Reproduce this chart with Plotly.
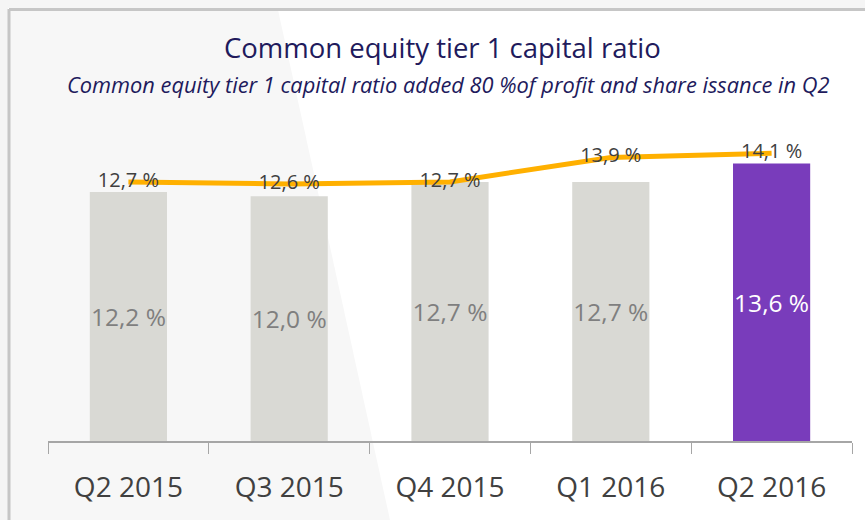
import plotly.graph_objects as go

categories = ["Q2 2015", "Q3 2015", "Q4 2015", "Q1 2016", "Q2 2016"]
bar_values = [12.2, 12.0, 12.7, 12.7, 13.6]
line_values = [12.7, 12.6, 12.7, 13.9, 14.1]
bar_colors = ["#d9d9d4", "#d9d9d4", "#d9d9d4", "#d9d9d4", "#793cbb"]
bar_text_colors = ["#7f7f7f", "#7f7f7f", "#7f7f7f", "#7f7f7f", "#ffffff"]

def fmt(v):
    return f"{v:.1f}".replace(".", ",") + " %"

W, H = 865, 520
L, R, T, B = 48, 13, 130, 79
PW, PH = W - L - R, H - T - B

def px(x):
    return (x - L) / PW

def py(y):
    return (H - B - y) / PH

fig = go.Figure()

fig.add_trace(go.Bar(
    x=categories, y=bar_values,
    marker=dict(color=bar_colors, line=dict(width=0)),
    width=0.48,
    text=[fmt(v) for v in bar_values],
    textposition="inside", insidetextanchor="middle",
    textangle=0, constraintext="none",
    textfont=dict(family="Open Sans", size=24.5, color=bar_text_colors),
    hoverinfo="skip", showlegend=False,
))

fig.add_trace(go.Scatter(
    x=categories, y=line_values, mode="lines",
    line=dict(color="#ffb000", width=5),
    hoverinfo="skip", showlegend=False,
))

fig.add_trace(go.Scatter(
    x=categories, y=line_values, mode="text",
    text=[fmt(v) for v in line_values],
    textposition="middle center",
    textfont=dict(family="Open Sans", size=20, color="#404040"),
    hoverinfo="skip", showlegend=False,
))

shapes = [
    dict(type="rect", xref="paper", yref="paper", x0=px(0), x1=px(W), y0=py(H), y1=py(0),
         fillcolor="#ffffff", line=dict(width=0), layer="below"),
    dict(type="rect", xref="paper", yref="paper", x0=px(0), x1=px(W), y0=py(8), y1=py(0),
         fillcolor="#f5f5f5", line=dict(width=0), layer="below"),
    dict(type="rect", xref="paper", yref="paper", x0=px(0), x1=px(8), y0=py(H), y1=py(0),
         fillcolor="#f5f5f5", line=dict(width=0), layer="below"),
    dict(type="path", xref="paper", yref="paper",
         path=f"M {px(10)},{py(10)} L {px(278)},{py(10)} L {px(390)},{py(H)} L {px(10)},{py(H)} Z",
         fillcolor="#f7f7f7", line=dict(width=0), layer="below"),
    dict(type="line", xref="paper", yref="paper", x0=px(9), x1=px(W), y0=py(9.5), y1=py(9.5),
         line=dict(color="#c6c6c6", width=3), layer="below"),
    dict(type="line", xref="paper", yref="paper", x0=px(9), x1=px(9), y0=py(9), y1=py(H),
         line=dict(color="#c6c6c6", width=3), layer="below"),
]

fig.update_layout(
    width=W, height=H,
    margin=dict(l=L, r=R, t=T, b=B),
    paper_bgcolor="#ffffff", plot_bgcolor="rgba(0,0,0,0)",
    bargap=0.52,
    shapes=shapes,
    annotations=[
        dict(text="Common equity tier 1 capital ratio", xref="paper", yref="paper",
             x=px(442), y=py(47), xanchor="center", yanchor="middle", showarrow=False,
             font=dict(family="Open Sans", size=27.5, color="#211a5c")),
        dict(text="<i>Common equity tier 1 capital ratio added 80 %of profit and share issance in Q2</i>",
             xref="paper", yref="paper",
             x=px(448), y=py(85), xanchor="center", yanchor="middle", showarrow=False,
             font=dict(family="Open Sans", size=21.8, color="#211a5c")),
    ],
    xaxis=dict(
        showline=True, linecolor="#a6a6a6", linewidth=1.5,
        ticks="outside", ticklen=11, tickcolor="#a6a6a6", tickwidth=1.2,
        tickson="boundaries", showgrid=False, zeroline=False,
        tickfont=dict(family="Open Sans", size=28, color="#404040"),
        ticklabelstandoff=21,
    ),
    yaxis=dict(visible=False, range=[0, PH / 20.4], showgrid=False, zeroline=False),
)

fig.write_html("out.html", post_script="document.body.style.margin='0px';",
               config={"displayModeBar": False})
